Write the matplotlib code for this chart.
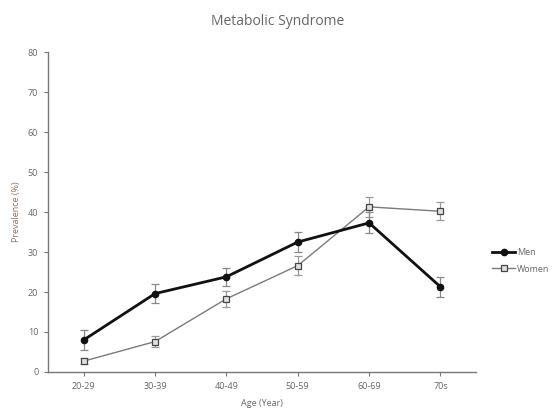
import matplotlib
matplotlib.use("Agg")
import matplotlib.pyplot as plt
from matplotlib.lines import Line2D

plt.rcParams['font.family'] = ['Open Sans', 'DejaVu Sans']

ages = ["20-29", "30-39", "40-49", "50-59", "60-69", "70s"]
men = [8.0, 19.6, 23.8, 32.5, 37.3, 21.3]
men_err = [2.5, 2.3, 2.3, 2.5, 2.6, 2.5]
women = [2.7, 7.6, 18.3, 26.6, 41.3, 40.2]
women_err = [0.8, 1.3, 2.0, 2.3, 2.5, 2.3]

fig = plt.figure(figsize=(5.56, 4.11), dpi=100)
ax = fig.add_axes([0.0863, 0.095, 0.77, 0.778])

x = range(len(ages))
women_style = dict(color='#7a7a7a', lw=1.0, marker='s', ms=4,
                   mfc='#e0e0e0', mec='#444444', mew=0.9)
men_style = dict(color='#111111', lw=2.0, marker='o', ms=4.5,
                 mfc='#111111', mec='#111111')
ax.errorbar(x, women, yerr=women_err, ecolor='#999999', elinewidth=0.9,
            capsize=3, capthick=0.9, zorder=2, **women_style)
ax.errorbar(x, men, yerr=men_err, ecolor='#888888', elinewidth=0.9,
            capsize=3, capthick=0.9, zorder=3, **men_style)

ax.set_xlim(-0.5, 5.5)
ax.set_ylim(0, 80)
ax.set_xticks(list(x))
ax.set_xticklabels(ages)
ax.set_yticks(range(0, 81, 10))

for s in ['top', 'right']:
    ax.spines[s].set_visible(False)
for s in ['left', 'bottom']:
    ax.spines[s].set_color('#777777')
    ax.spines[s].set_linewidth(1.0)
ax.tick_params(axis='both', colors='#777777', labelsize=6.5, length=3,
               width=0.8, labelcolor='#666666', pad=4)

ax.set_ylabel('Prevalence (%)', fontsize=6.5, color='#8a7060', labelpad=5)
ax.set_xlabel('Age (Year)', fontsize=6.5, color='#666666', labelpad=6)
fig.text(0.5, 0.94, 'Metabolic Syndrome', ha='center', fontsize=10,
         color='#666666')

handles = [Line2D([], [], **men_style), Line2D([], [], **women_style)]
leg = fig.legend(handles, ['Men', 'Women'], loc='center left',
                 bbox_to_anchor=(0.87, 0.365), frameon=False, fontsize=6.5,
                 handlelength=2.6, handletextpad=0.2, labelspacing=0.8)
for t in leg.get_texts():
    t.set_color('#666666')

fig.savefig('out.png', dpi=100)
